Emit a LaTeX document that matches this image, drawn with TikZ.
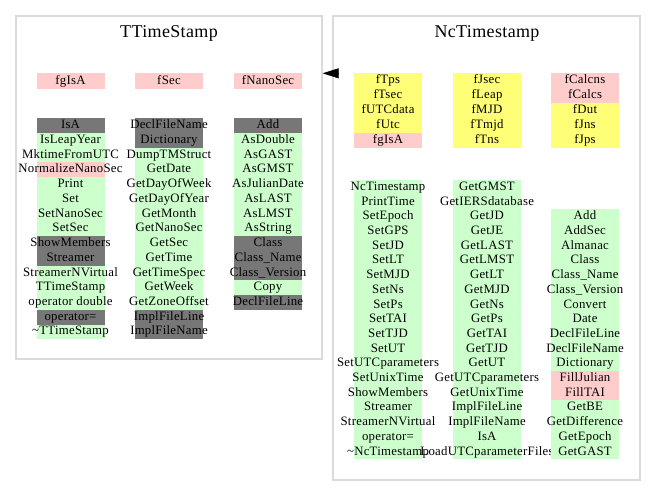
\documentclass[tikz,border=0pt]{standalone}
\usepackage{fontspec}
\setmainfont{Liberation Serif}[LetterSpace=2]
\usetikzlibrary{arrows.meta}
\definecolor{cpink}{RGB}{255,204,204}
\definecolor{cgreen}{RGB}{204,255,204}
\definecolor{cgray}{RGB}{119,119,119}
\definecolor{cyellow}{RGB}{255,255,119}
\definecolor{cborder}{RGB}{218,218,218}
% a table cell: fixed-width bar, text centred and allowed to spill over both sides
\newcommand{\cellbox}[1]{\makebox[68pt][c]{#1}}
\tikzset{
  cell/.style={inner sep=0pt, minimum width=68pt, minimum height=#1,
    text height=8.8pt, text depth=2.6pt,
    font=\fontsize{12.8}{14}\selectfont},
  cell/.default=14.73pt,
  cluster/.style={draw=cborder, line width=1.4pt, inner sep=0pt},
  ctitle/.style={font=\fontsize{18}{20}\selectfont},
  inherit/.style={-{Triangle[length=16pt,width=10pt]}, black}
}
\begin{document}
\begin{tikzpicture}[x=1pt,y=-1pt]
\useasboundingbox (0,0) rectangle (656,496);

% class clusters
\node[cluster, minimum width=306pt, minimum height=343pt] (tts) at (169,187.5) {};
\node[cluster, minimum width=307pt, minimum height=464pt] (nct) at (486.5,248) {};
\node[ctitle] (ttstitle) at (169,33) {TTimeStamp};
\node[ctitle] (nctitle) at (487,33) {NcTimestamp};

% TTimeStamp data members
\node[cell=16.6pt, fill=cpink] (td1) at (70.5,81) {\cellbox{fgIsA}};
\node[cell=16.6pt, fill=cpink] (td2) at (169,81) {\cellbox{fSec}};
\node[cell=16.6pt, fill=cpink] (td3) at (268,81) {\cellbox{fNanoSec}};

% TTimeStamp methods
\foreach \c/\t [count=\i] in {cgray/IsA, cgreen/IsLeapYear, cgreen/MktimeFromUTC,
    cpink/NormalizeNanoSec, cgreen/Print, cgreen/Set, cgreen/SetNanoSec, cgreen/SetSec,
    cgray/ShowMembers, cgray/Streamer, cgreen/StreamerNVirtual, cgreen/TTimeStamp,
    cgreen/{operator double}, cgray/{operator=}, cgreen/{\textasciitilde TTimeStamp}}
  \node[cell, fill=\c] (ta\i) at (70.5,{118.3+14.73*(\i-0.5)}) {\cellbox{\t}};

\foreach \c/\t [count=\i] in {cgray/DeclFileName, cgray/Dictionary, cgreen/DumpTMStruct,
    cgreen/GetDate, cgreen/GetDayOfWeek, cgreen/GetDayOfYear, cgreen/GetMonth,
    cgreen/GetNanoSec, cgreen/GetSec, cgreen/GetTime, cgreen/GetTimeSpec, cgreen/GetWeek,
    cgreen/GetZoneOffset, cgray/ImplFileLine, cgray/ImplFileName}
  \node[cell, fill=\c] (tb\i) at (169,{118.3+14.73*(\i-0.5)}) {\cellbox{\t}};

\foreach \c/\t [count=\i] in {cgray/Add, cgreen/AsDouble, cgreen/AsGAST, cgreen/AsGMST,
    cgreen/AsJulianDate, cgreen/AsLAST, cgreen/AsLMST, cgreen/AsString, cgray/Class,
    cgray/Class\_Name, cgray/Class\_Version, cgreen/Copy, cgray/DeclFileLine}
  \node[cell, fill=\c] (tc\i) at (268,{118.3+14.73*(\i-0.5)}) {\cellbox{\t}};

% NcTimestamp data members
\foreach \c/\t [count=\i] in {cyellow/fTps, cyellow/fTsec, cyellow/fUTCdata,
    cyellow/fUtc, cpink/fgIsA}
  \node[cell=15pt, fill=\c] (nd\i) at (388,{72.7+15*(\i-0.5)}) {\cellbox{\t}};
\foreach \c/\t [count=\i] in {cyellow/fJsec, cyellow/fLeap, cyellow/fMJD,
    cyellow/fTmjd, cyellow/fTns}
  \node[cell=15pt, fill=\c] (ne\i) at (487,{72.7+15*(\i-0.5)}) {\cellbox{\t}};
\foreach \c/\t [count=\i] in {cpink/fCalcns, cpink/fCalcs, cyellow/fDut,
    cyellow/fJns, cyellow/fJps}
  \node[cell=15pt, fill=\c] (nf\i) at (585,{72.7+15*(\i-0.5)}) {\cellbox{\t}};

% NcTimestamp methods
\foreach \t [count=\i] in {NcTimestamp, PrintTime, SetEpoch, SetGPS, SetJD, SetLT,
    SetMJD, SetNs, SetPs, SetTAI, SetTJD, SetUT, SetUTCparameters, SetUnixTime,
    ShowMembers, Streamer, StreamerNVirtual, {operator=}, {\textasciitilde NcTimestamp}}
  \node[cell, fill=cgreen] (na\i) at (388,{180+14.7*(\i-0.5)}) {\cellbox{\t}};

\foreach \t [count=\i] in {GetGMST, GetIERSdatabase, GetJD, GetJE, GetLAST, GetLMST,
    GetLT, GetMJD, GetNs, GetPs, GetTAI, GetTJD, GetUT, GetUTCparameters, GetUnixTime,
    ImplFileLine, ImplFileName, IsA, LoadUTCparameterFiles}
  \node[cell, fill=cgreen] (nb\i) at (487,{180+14.7*(\i-0.5)}) {\cellbox{\t}};

\foreach \c/\t [count=\i] in {cgreen/Add, cgreen/AddSec, cgreen/Almanac, cgreen/Class,
    cgreen/Class\_Name, cgreen/Class\_Version, cgreen/Convert, cgreen/Date,
    cgreen/DeclFileLine, cgreen/DeclFileName, cgreen/Dictionary, cpink/FillJulian,
    cpink/FillTAI, cgreen/GetBE, cgreen/GetDifference, cgreen/GetEpoch, cgreen/GetGAST}
  \node[cell, fill=\c] (nc\i) at (585,{209.4+14.7*(\i-0.5)}) {\cellbox{\t}};

% inheritance: NcTimestamp derives from TTimeStamp
\coordinate (inhstart) at (337,73.3);
\draw[inherit] (inhstart) -- (tts.east |- inhstart);
\end{tikzpicture}
\end{document}
